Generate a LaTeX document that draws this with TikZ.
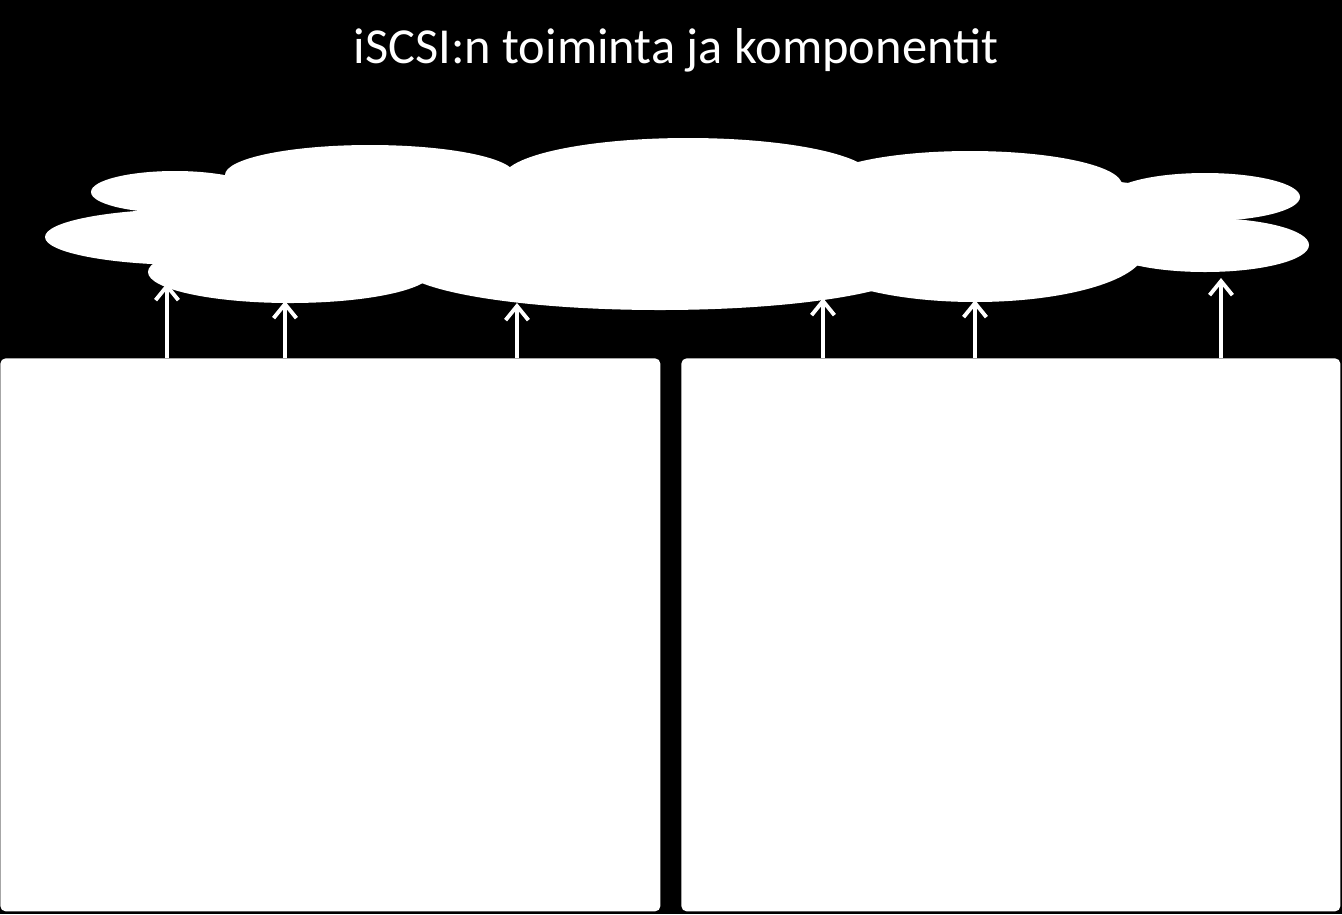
\documentclass[tikz,border=0pt]{standalone}
\usepackage{fontspec}
\setmainfont{Carlito}
\usetikzlibrary{arrows.meta}
\begin{document}
\begin{tikzpicture}[x=0.02cm,y=-0.02cm,
    box/.style={draw=none,fill=white,rounded corners=3pt},
    up/.style={white,line width=2.2pt,-{Straight Barb[length=8pt,width=13pt,line width=2.2pt]}}]
      \fill[black] (0,0) rectangle (1342,914);
      \node[white,font=\fontsize{28.7}{32}\selectfont] (title) at (676,50) {iSCSI:n toiminta ja komponentit};
      % cloud
      \begin{scope}[white]
        \fill (175,192) ellipse (84 and 21);
        \fill (190,237) ellipse (145 and 28);
        \fill (290,272) ellipse (142 and 31);
        \fill (370,175) ellipse (145 and 30);
        \fill (688,178) ellipse (185 and 40);
        \fill (970,185) ellipse (152 and 34);
        \fill (1205,197) ellipse (95 and 24);
        \fill (1205,245) ellipse (104 and 27);
        \fill (660,265) ellipse (260 and 45);
        \fill (975,250) ellipse (170 and 52);
        \fill (680,225) ellipse (420 and 55);
        \fill (330,215) ellipse (150 and 40);
        \fill (1080,215) ellipse (120 and 35);
      \end{scope}
      % boxes
      \path (0,358) node[box,minimum width=660*0.02cm,minimum height=553*0.02cm,anchor=north west,inner sep=0] (left) {}
        (681,358) node[box,minimum width=659*0.02cm,minimum height=553*0.02cm,anchor=north west,inner sep=0] (right) {};
      \path
        (167,283) coordinate (t1)
        (285,301) coordinate (t2)
        (517,303) coordinate (t3)
        (823,298) coordinate (t4)
        (975,300) coordinate (t5)
        (1221,278) coordinate (t6);
      \begin{scope}[up]
        \draw (t1 |- left.north) to (t1);
        \draw (t2 |- left.north) to (t2);
        \draw (t3 |- left.north) to (t3);
        \draw (t4 |- right.north) to (t4);
        \draw (t5 |- right.north) to (t5);
        \draw (t6 |- right.north) to (t6);
      \end{scope}
    \end{tikzpicture}
\end{document}
